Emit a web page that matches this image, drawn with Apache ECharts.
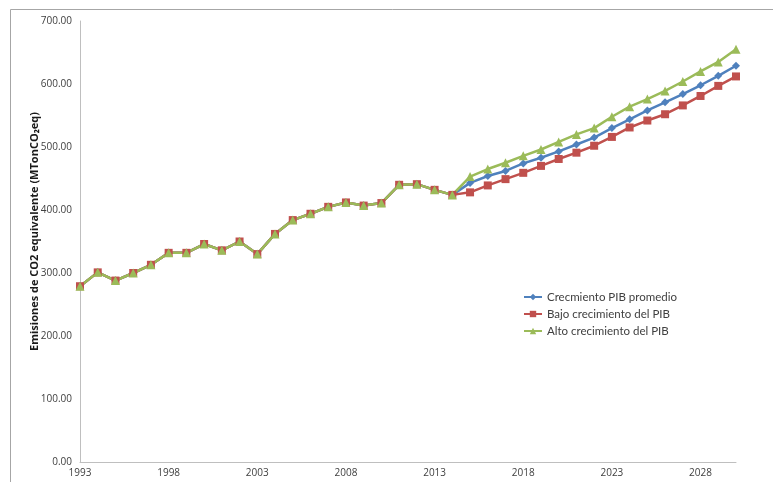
<!DOCTYPE html>
<html>
<head>
<meta charset="utf-8">
<script src="https://cdn.jsdelivr.net/npm/echarts@6/dist/echarts.min.js"></script>
<style>
  html, body { margin: 0; padding: 0; background: #fff; }
  #chart { width: 773px; height: 482px; }
</style>
</head>
<body>
<div id="chart"></div>
<script>
// Years 1993–2030
const years = [];
for (let y = 1993; y <= 2030; y++) years.push(String(y));

// Historical emissions 1993–2014 (shared by all scenarios)
const historico = [279, 301, 288, 300, 313, 332, 332, 346, 336, 350, 330,
                   362, 384, 394, 405, 412, 407, 411, 440, 441, 432, 424];

// Projections 2015–2030
const proyPromedio = [443, 454, 462, 474, 483, 493, 504, 515, 530, 544, 558, 571, 584, 598, 613, 629];
const proyBajo     = [428, 439, 449, 459, 470, 481, 491, 502, 516, 531, 542, 552, 566, 581, 597, 612];
const proyAlto     = [453, 465, 475, 486, 496, 508, 520, 530, 548, 564, 576, 589, 604, 620, 635, 655];

const serieNombres = ['Crecmiento PIB promedio', 'Bajo crecimiento del PIB', 'Alto crecimiento del PIB'];
const yTicks = { min: 0, max: 700, interval: 100 };

const chart = echarts.init(document.getElementById('chart'));

function linea(name, proy, color, symbol, size) {
  return {
    name: name,
    type: 'line',
    data: historico.concat(proy),
    symbol: symbol,
    symbolSize: size,
    lineStyle: { color: color, width: 2.5 },
    itemStyle: { color: color },
    animation: false
  };
}

chart.setOption({
  backgroundColor: '#ffffff',
  textStyle: { fontFamily: 'Lato, "Open Sans", "DejaVu Sans", sans-serif' },
  graphic: [{
    type: 'rect',
    shape: { x: 10.5, y: 9.5, width: 800, height: 500 },
    style: { fill: 'none', stroke: '#a6a6a6', lineWidth: 1 },
    silent: true
  }],
  grid: { left: 80, right: 37, top: 21, bottom: 20 },
  legend: {
    orient: 'vertical',
    left: 518,
    top: 286,
    itemGap: 5,
    itemWidth: 18,
    itemHeight: 8,
    data: serieNombres,
    textStyle: { fontSize: 11.5, color: '#404040', fontFamily: 'Lato, sans-serif' }
  },
  xAxis: {
    type: 'category',
    data: years,
    boundaryGap: false,
    axisLine: { lineStyle: { color: '#bfbfbf' } },
    axisTick: { show: false },
    axisLabel: { interval: 4, fontSize: 10, color: '#404040', margin: 6, fontFamily: '"Open Sans", sans-serif' }
  },
  yAxis: {
    type: 'value',
    min: yTicks.min,
    max: yTicks.max,
    interval: yTicks.interval,
    name: 'Emisiones de CO2 equivalente (MTonCO₂eq)',
    nameLocation: 'middle',
    nameGap: 40,
    nameMoveOverlap: false,
    nameTextStyle: {
      fontSize: 11,
      fontWeight: 'bold',
      color: '#1a1a1a',
      fontFamily: '"Open Sans", sans-serif',
      padding: [0, 0, 0, 20]
    },
    axisLine: { show: true, lineStyle: { color: '#bfbfbf' } },
    axisTick: { show: false },
    splitLine: { show: false },
    axisLabel: {
      fontSize: 10,
      color: '#404040',
      margin: 8,
      fontFamily: '"Open Sans", sans-serif',
      formatter: v => v.toFixed(2)
    }
  },
  series: [
    linea(serieNombres[0], proyPromedio, '#4F81BD', 'diamond', 8),
    linea(serieNombres[1], proyBajo, '#C0504D', 'rect', 8),
    linea(serieNombres[2], proyAlto, '#9BBB59', 'triangle', 9)
  ]
});
</script>
</body>
</html>
